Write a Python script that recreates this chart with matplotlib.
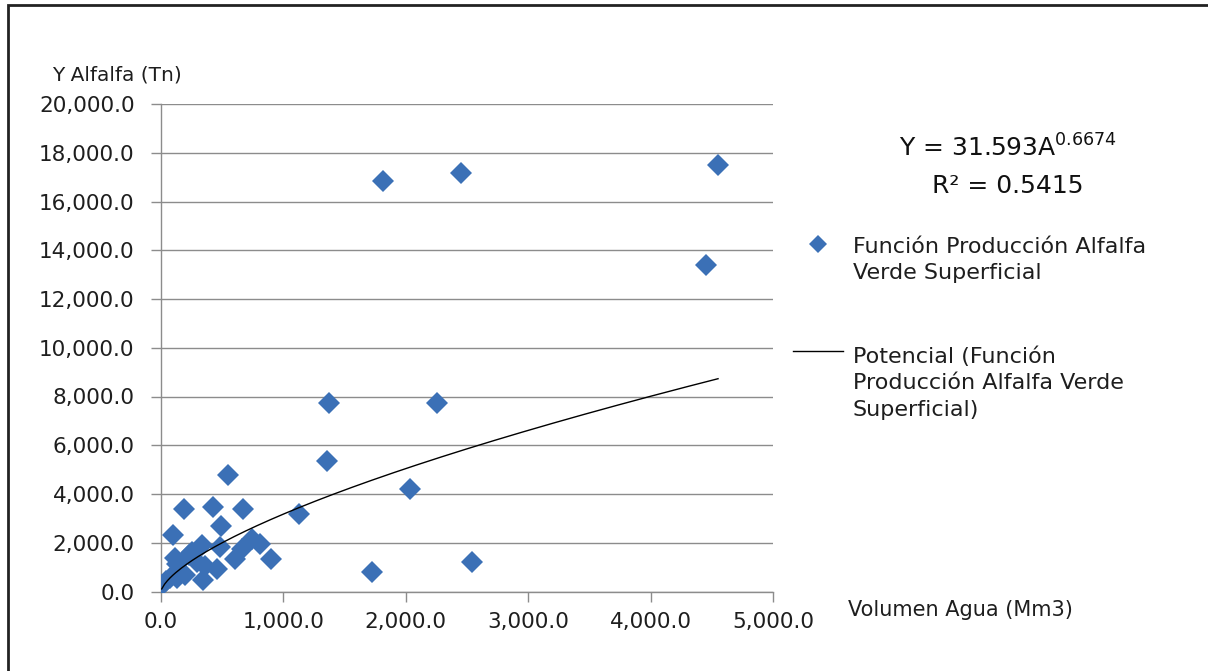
import numpy as np
import matplotlib.pyplot as plt
from matplotlib.lines import Line2D
from matplotlib.patches import Rectangle

plt.rcParams['font.family'] = ['DejaVu Sans']

# volumen de agua (Mm3) y produccion de alfalfa (Tn)
volumen = [6, 40, 74, 128, 155, 114, 131, 196, 230, 251, 292, 333, 360, 455, 346,
           482, 98, 185, 427, 671, 550, 490, 660, 742, 810, 605, 897, 1128,
           1360, 1370, 2257, 2031, 1721, 2542, 1811, 2455, 4551, 4454]
produccion = [270, 450, 550, 550, 820, 1370, 1140, 690, 1480, 1640, 1230, 1910, 1030,
              930, 480, 1820, 2300, 3400, 3450, 3400, 4760, 2700, 1750, 2160, 1950,
              1340, 1340, 3190, 5350, 7750, 7750, 4220, 820, 1200, 16850, 17170,
              17500, 13380]

# linea de tendencia potencial Y = a * A^b
coef_a = 31.593
coef_b = 0.6674

xticks = [0, 1000, 2000, 3000, 4000, 5000]
yticks = [0, 2000, 4000, 6000, 8000, 10000, 12000, 14000, 16000, 18000, 20000]

azul = '#3b70b6'
gris = '#8c8c8c'
texto = '#1e1e1e'

fig = plt.figure(figsize=(12.08, 6.71), dpi=100)
ax = fig.add_axes([161 / 1208, 1 - 591.5 / 671, (773 - 161) / 1208, (591.5 - 104) / 671])

ax.plot(volumen, produccion, linestyle='none', marker='D', markersize=11,
        color=azul, markeredgewidth=0, zorder=3)

xs = np.linspace(min(volumen), max(volumen), 200)
ax.plot(xs, coef_a * xs ** coef_b, color='black', linewidth=1, zorder=4)

ax.set_xlim(0, 5000)
ax.set_ylim(0, 20000)
ax.set_xticks(xticks)
ax.set_yticks(yticks)
ax.set_xticklabels([f"{v:,.1f}" for v in xticks], fontsize=15.5, color=texto)
ax.set_yticklabels([f"{v:,.1f}" for v in yticks], fontsize=15.5, color=texto)
ax.tick_params(axis='both', direction='out', length=7, width=1, color=gris)
ax.tick_params(axis='x', pad=8)
ax.tick_params(axis='y', pad=12)

ax.grid(axis='y', color=gris, linewidth=1)
ax.set_axisbelow(True)
for s in ['top', 'right']:
    ax.spines[s].set_visible(False)
for s in ['left', 'bottom']:
    ax.spines[s].set_color(gris)
    ax.spines[s].set_linewidth(1)

fig.text(52 / 1208, 1 - 75 / 671, "Y Alfalfa (Tn)", fontsize=14.5, va='center', ha='left', color=texto)
fig.text(848 / 1208, 1 - 610 / 671, "Volumen Agua (Mm3)", fontsize=15, va='center', ha='left', color=texto)

fig.text(1008 / 1208, 1 - 148 / 671, r"Y = 31.593A$^{0.6674}$", fontsize=18, ha='center', va='center', color='#111111')
fig.text(1008 / 1208, 1 - 186 / 671, "R² = 0.5415", fontsize=18, ha='center', va='center', color='#111111')

# leyenda
fig.add_artist(Line2D([818 / 1208], [1 - 244 / 671], marker='D', markersize=9,
                      color=azul, markeredgewidth=0, linestyle='none'))
fig.text(853 / 1208, 1 - 260 / 671, "Función Producción Alfalfa\nVerde Superficial",
         fontsize=16, ha='left', va='center', linespacing=1.42, color=texto)
fig.add_artist(Line2D([793 / 1208, 843 / 1208], [1 - 351 / 671, 1 - 351 / 671],
                      color='black', linewidth=1))
fig.text(853 / 1208, 1 - 383 / 671, "Potencial (Función\nProducción Alfalfa Verde\nSuperficial)",
         fontsize=16, ha='left', va='center', linespacing=1.4, color=texto)

# marco exterior
fig.add_artist(Rectangle((8 / 1208, -0.02), 1.1, 1 - 5 / 671 + 0.02, transform=fig.transFigure,
                         fill=False, edgecolor='#222222', linewidth=2))

fig.savefig("out.png", dpi=100)
